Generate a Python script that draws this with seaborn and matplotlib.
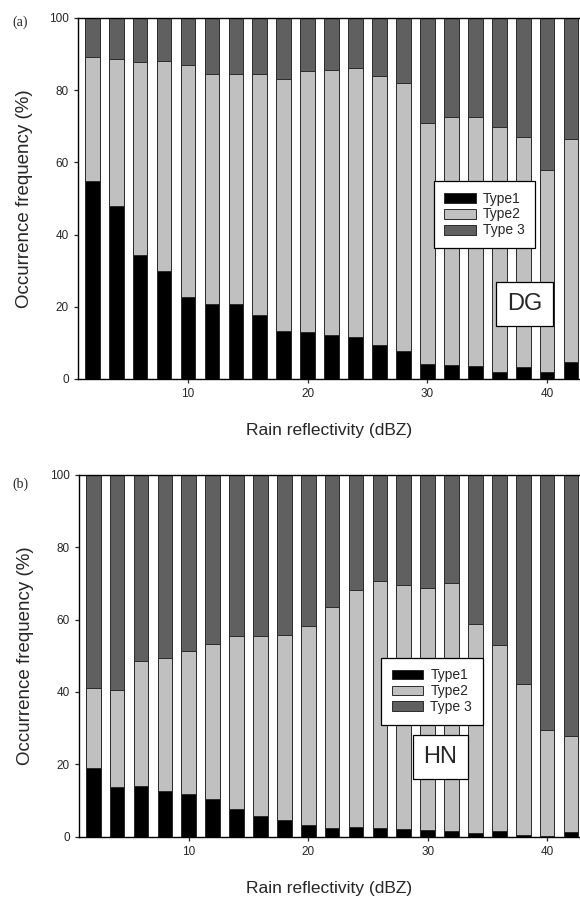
import matplotlib
matplotlib.use("Agg")
import pandas as pd
import matplotlib.pyplot as plt
import seaborn as sns
from matplotlib.patches import Patch

# rain reflectivity bins (dBZ)
dbz = [2, 4, 6, 8, 10, 12, 14, 16, 18, 20, 22, 24, 26, 28, 30, 32, 34, 36, 38, 40, 42]

# (a) DG occurrence frequency (%)
dg_type1 = [54.9, 48.0, 34.4, 29.9, 22.8, 20.8, 20.8, 17.7, 13.3, 12.9, 12.2,
            11.5, 9.4, 7.8, 4.2, 3.9, 3.6, 1.9, 3.3, 1.9, 4.7]
dg_type2 = [34.2, 40.5, 53.5, 58.1, 64.3, 63.8, 63.8, 66.9, 69.8, 72.3, 73.4,
            74.5, 74.6, 74.1, 66.7, 68.8, 69.1, 67.9, 63.6, 56.1, 61.8]
dg_type3 = [10.9, 11.5, 12.1, 12.0, 12.9, 15.4, 15.4, 15.4, 16.9, 14.8, 14.4,
            14.0, 16.0, 18.1, 29.1, 27.3, 27.3, 30.2, 33.1, 42.0, 33.5]

# (b) HN occurrence frequency (%)
hn_type1 = [18.9, 13.6, 14.0, 12.6, 11.8, 10.4, 7.6, 5.7, 4.6, 3.2, 2.4,
            2.7, 2.4, 2.1, 1.8, 1.6, 1.0, 1.6, 0.4, 0.1, 1.3]
hn_type2 = [22.1, 27.0, 34.7, 36.8, 39.6, 42.9, 48.0, 49.7, 51.2, 55.0, 61.1,
            65.5, 68.2, 67.5, 67.0, 68.5, 57.9, 51.5, 41.7, 29.3, 26.5]
hn_type3 = [59.0, 59.4, 51.3, 50.6, 48.6, 46.7, 44.4, 44.6, 44.2, 41.8, 36.5,
            31.8, 29.4, 30.4, 31.2, 29.9, 41.1, 46.9, 57.9, 70.6, 72.2]

type_labels = ["Type1", "Type2", "Type 3"]
type_colors = ["#000000", "#c0c0c0", "#606060"]
edge = "#2a2a2a"

sns.set_style("ticks")
plt.rcParams["font.family"] = ["Liberation Sans", "DejaVu Sans"]
plt.rcParams["xtick.major.size"] = 3
plt.rcParams["ytick.major.size"] = 3
plt.rcParams["xtick.major.width"] = 0.9
plt.rcParams["ytick.major.width"] = 0.9


def draw_panel(ax, t1, t2, t3, site, leg_xy, box_xy):

    df = pd.DataFrame({"dbz": dbz, "t1": t1, "t2": t2, "t3": t3})
    df["top2"] = df["t1"] + df["t2"]
    df["top3"] = df["top2"] + df["t3"]

    # stacked bars: draw cumulative tops from back to front
    for col, color in [("top3", type_colors[2]), ("top2", type_colors[1]), ("t1", type_colors[0])]:
        sns.barplot(
            data=df,
            x="dbz",
            y=col,
            native_scale=True,
            width=0.615,
            color=color,
            saturation=1,
            edgecolor=edge,
            linewidth=0.7,
            errorbar=None,
            ax=ax
        )

    ax.set_xlim(0.81, 42.75)
    ax.set_ylim(0, 100)
    ax.set_xticks([10, 20, 30, 40])
    ax.set_yticks([0, 20, 40, 60, 80, 100])
    ax.tick_params(labelsize=8.5, direction="out")

    for s in ["left", "bottom", "top"]:
        ax.spines[s].set_linewidth(1.0)
        ax.spines[s].set_color("black")
    ax.spines["right"].set_visible(False)

    ax.set_xlabel("Rain reflectivity (dBZ)", fontsize=12.5)
    ax.set_ylabel("Occurrence frequency (%)", fontsize=13.5)
    ax.xaxis.set_label_coords(0.5, -0.122)
    ax.yaxis.set_label_coords(-0.09, 0.5)

    handles = [
        Patch(facecolor=c, edgecolor=edge, linewidth=0.7, label=l)
        for c, l in zip(type_colors, type_labels)
    ]
    leg = ax.legend(
        handles=handles,
        loc="upper left",
        bbox_to_anchor=leg_xy,
        borderaxespad=0,
        frameon=True,
        fancybox=False,
        framealpha=1,
        edgecolor="black",
        fontsize=10,
        handlelength=2.3,
        handleheight=0.72,
        labelspacing=0.14,
        borderpad=0.75,
        handletextpad=0.5
    )
    leg.get_frame().set_linewidth(0.9)

    ax.text(
        box_xy[0], box_xy[1], site,
        transform=ax.transAxes,
        ha="center", va="center",
        fontsize=17,
        bbox=dict(boxstyle="square,pad=0.46", facecolor="white",
                  edgecolor="black", linewidth=0.9)
    )


fig = plt.figure(figsize=(5.8, 8.98), dpi=100)

ax1 = fig.add_axes([0.1345, 0.5780, 0.8655, 0.4020])
ax2 = fig.add_axes([0.1362, 0.0683, 0.8638, 0.4028])

draw_panel(ax1, dg_type1, dg_type2, dg_type3, "DG", (0.709, 0.548), (0.889, 0.208))
draw_panel(ax2, hn_type1, hn_type2, hn_type3, "HN", (0.603, 0.494), (0.7216, 0.220))

fig.text(0.022, 0.975, "(a)", family=["Liberation Serif", "DejaVu Serif"], fontsize=10, va="center")
fig.text(0.022, 0.461, "(b)", family=["Liberation Serif", "DejaVu Serif"], fontsize=10, va="center")

plt.savefig("out.png", dpi=100)
